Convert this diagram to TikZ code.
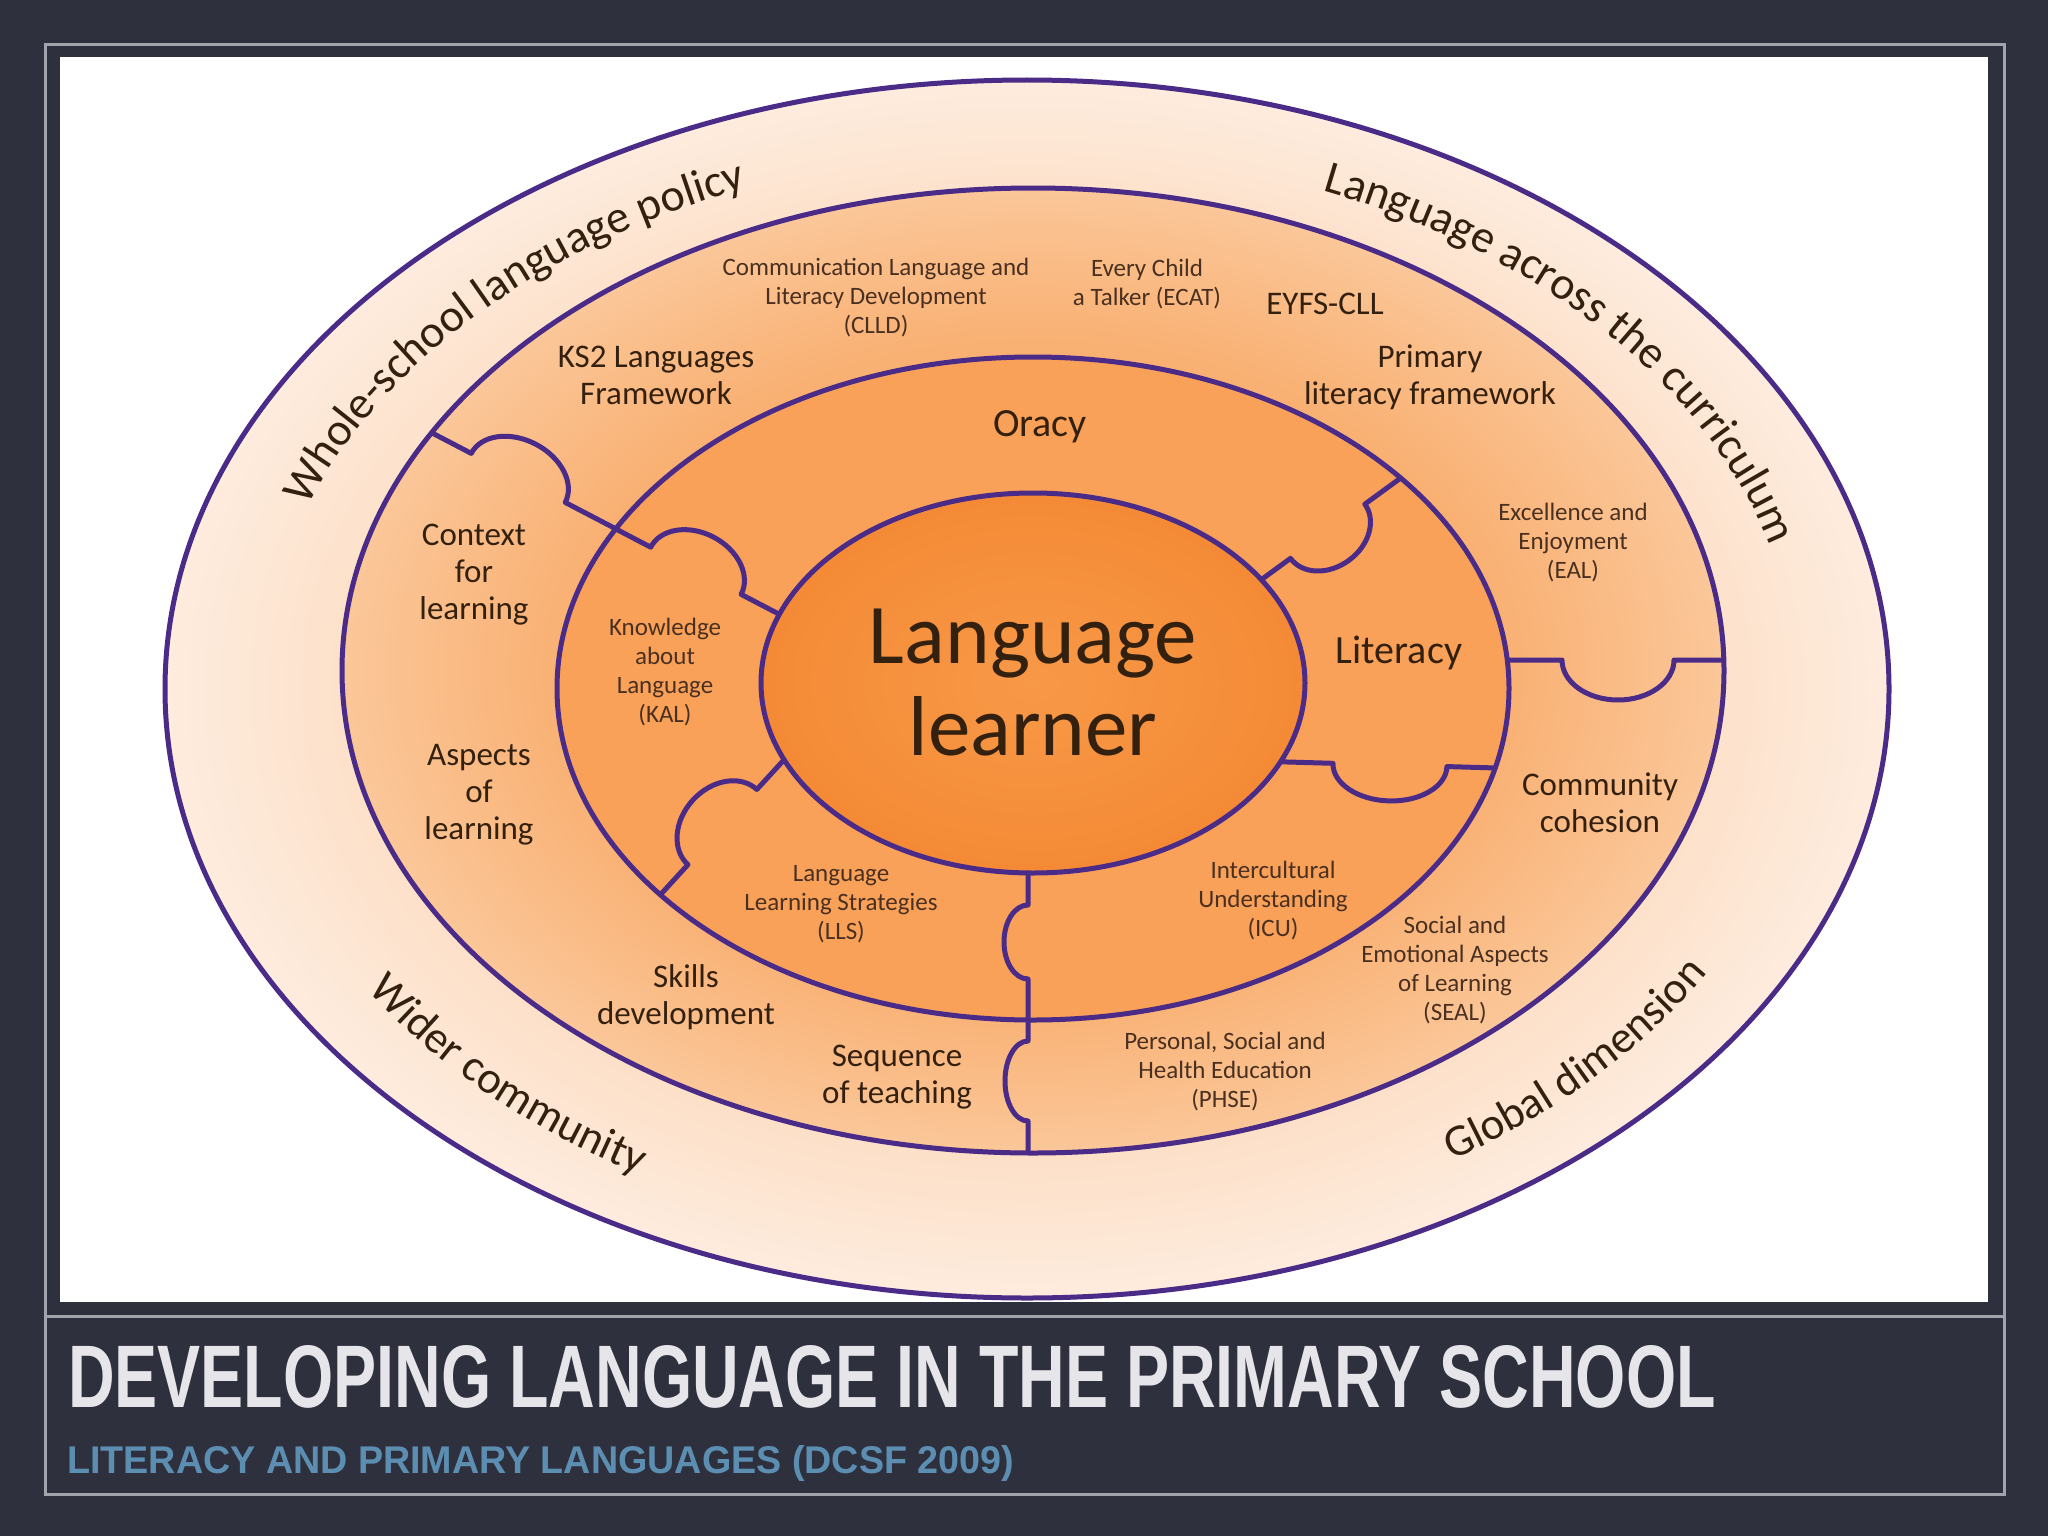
\documentclass[tikz,border=0pt]{standalone}
\usepackage{fontspec}
\usepackage{graphicx}
\setmainfont{Carlito}
\newfontfamily\titlefont{Liberation Sans}
\usetikzlibrary{decorations.text}

\definecolor{bgdark}{HTML}{2F303D}
\definecolor{framegray}{HTML}{A3A3AE}
\definecolor{pline}{HTML}{4A2B88}
\definecolor{innor}{HTML}{F9A159}
\definecolor{txtdark}{HTML}{33200F}
\definecolor{txtsmall}{HTML}{4A3020}
\definecolor{titlewhite}{HTML}{E5E5EA}
\definecolor{subblue}{HTML}{5C8EB2}

\pgfdeclareradialshading{outerring}{\pgfpointorigin}{rgb(0bp)=(0.99,0.86,0.76);rgb(19bp)=(0.99,0.875,0.78);rgb(25bp)=(0.995,0.925,0.87);rgb(50bp)=(0.995,0.925,0.87)}
\pgfdeclareradialshading{bandring}{\pgfpointorigin}{rgb(0bp)=(0.976,0.69,0.45);rgb(17bp)=(0.976,0.69,0.45);rgb(25bp)=(0.984,0.78,0.60);rgb(50bp)=(0.984,0.78,0.60)}
\pgfdeclareradialshading{corering}{\pgfpointorigin}{rgb(0bp)=(0.972,0.6,0.28);rgb(25bp)=(0.956,0.54,0.21);rgb(50bp)=(0.956,0.54,0.21)}

\newcommand{\curvefont}{\fontsize{46}{50}\selectfont}
\newcommand{\curvefontb}{\fontsize{45}{48}\selectfont}

% #1 x, #2 y, #3 angle, #4 length, #5 tab centre, #6 tab half width, #7 tab depth, #8 end angle (0 = left side, 360 = right side)
\newcommand{\tabline}[8]{%
  \begin{scope}[shift={(#1,#2)}, rotate=#3]
    \draw[divider] (0,0) -- ({#5-#6},0) arc[start angle=180, end angle=#8, x radius=#6, y radius=#7] -- (#4,0);
  \end{scope}}

\tikzset{
  ringline/.style={draw=pline, line width=5pt},
  divider/.style={draw=pline, line width=5pt, line join=round},
  lbl/.style={text=txtdark, align=center, inner sep=0pt},
  bigtxt/.style={lbl, font=\fontsize{85}{90}\selectfont},
  midtxt/.style={lbl, font=\fontsize{40}{44}\selectfont},
  bandtxt/.style={lbl, font=\fontsize{33}{37}\selectfont},
  smalltxt/.style={lbl, text=txtsmall, font=\fontsize{25}{29}\selectfont},
}

\begin{document}
\begin{tikzpicture}[x=1pt, y=1pt]
\useasboundingbox (0,0) rectangle (2048,-1536);
\fill[bgdark] (0,0) rectangle (2048,-1536);
\draw[framegray, line width=3pt] (45,-45) rectangle (2004,-1494);
\draw[framegray, line width=3pt] (45,-1316) -- (2004,-1316);
\fill[white] (60,-57) rectangle (1988,-1302);

\begin{scope}
\clip (60,-57) rectangle (1988,-1302);
\shadedraw[shading=outerring, ringline] (1027,-689) ellipse [x radius=862, y radius=609];
\shadedraw[shading=bandring, ringline] (1033,-670.5) ellipse [x radius=691, y radius=482.5];
\filldraw[fill=innor, ringline] (1033,-688.5) ellipse [x radius=476, y radius=331.5];
\shadedraw[shading=corering, ringline] (1033,-683) ellipse [x radius=272, y radius=190];
\end{scope}

% puzzle dividers
\tabline{431.8}{-432.8}{-27.56}{207.5}{97.5}{53}{38}{0}
\tabline{615.7}{-528.9}{-27.56}{184.5}{90.5}{51}{38}{0}
\tabline{1400.7}{-478}{216.1}{172.4}{90.4}{46}{36}{0}
\tabline{1507.2}{-660}{0}{216.6}{110.8}{56}{40}{360}
\tabline{1280.4}{-761.8}{-1.64}{214.8}{109.6}{57}{36}{360}
\tabline{784.2}{-759.6}{227.5}{183.4}{91.5}{51}{40}{360}
\tabline{1028}{-873}{-90}{147}{69}{37}{24}{360}
\tabline{1028}{-1020}{-90}{133}{61}{40}{23}{360}

% curved outer texts
\path[shift={(1030,-690)}, decorate, decoration={text along path, text align=center, text color=txtdark, text={|\curvefont|Whole-school language policy}}]
  (172.5:768 and 540) arc[start angle=172.5, end angle=102.5, x radius=768, y radius=540];
\path[shift={(1030,-690)}, decorate, decoration={text along path, text align=center, text color=txtdark, text={|\curvefont|Language across the curriculum}}]
  (77.5:768 and 540) arc[start angle=77.5, end angle=2, x radius=768, y radius=540];
\path[shift={(1030,-690)}, decorate, decoration={text along path, text align=center, text color=txtdark, text={|\curvefontb|Wider community}}]
  (200.5:786 and 558) arc[start angle=200.5, end angle=250, x radius=786, y radius=558];
\path[shift={(1030,-690)}, decorate, decoration={text along path, text align=center, text color=txtdark, text={|\curvefontb|Global dimension}}]
  (293.4:786 and 558) arc[start angle=293.4, end angle=340.7, x radius=786, y radius=558];

% centre
\node[bigtxt, anchor=base] (lang) at (1033,-663) {Language};
\node[bigtxt, anchor=base] (learner) at (1033,-755) {learner};

% inner ring
\node[midtxt] (oracy) at (1040,-427) {Oracy};
\node[midtxt] (literacy) at (1399,-653) {Literacy};
\node[smalltxt] (kal) at (665,-672) {Knowledge\\about\\Language\\(KAL)};
\node[smalltxt] (lls) at (841,-904) {Language\\Learning Strategies\\(LLS)};
\node[smalltxt] (icu) at (1273,-901) {Intercultural\\Understanding\\(ICU)};

% band
\node[bandtxt] (ks2) at (656,-375) {KS2 Languages\\Framework};
\node[bandtxt] (context) at (474,-575) {Context\\for\\learning};
\node[bandtxt] (aspects) at (479,-795) {Aspects\\of\\learning};
\node[bandtxt] (skills) at (686,-997) {Skills\\development};
\node[bandtxt] (sequence) at (897,-1077) {Sequence\\of teaching};
\node[bandtxt] (community) at (1600,-803) {Community\\cohesion};
\node[bandtxt] (eyfs) at (1325,-304) {EYFS-CLL};
\node[bandtxt] (primary) at (1430,-377) {Primary\\literacy framework};
\node[smalltxt] (clld) at (876,-298) {Communication Language and\\Literacy Development\\(CLLD)};
\node[smalltxt] (ecat) at (1147,-284) {Every Child\\a Talker (ECAT)};
\node[smalltxt] (eal) at (1573,-543) {Excellence and\\Enjoyment\\(EAL)};
\node[smalltxt] (seal) at (1455,-970) {Social and\\Emotional Aspects\\of Learning\\(SEAL)};
\node[smalltxt] (phse) at (1225,-1072) {Personal, Social and\\Health Education\\(PHSE)};

% caption
\node[anchor=base west, inner sep=0pt, text=titlewhite] (title) at (68,-1407)
  {\resizebox{1647pt}{62pt}{\titlefont\bfseries DEVELOPING LANGUAGE IN THE PRIMARY SCHOOL}};
\node[anchor=base west, inner sep=0pt, text=subblue] (subtitle) at (67,-1473)
  {\resizebox{947pt}{28pt}{\titlefont\bfseries LITERACY AND PRIMARY LANGUAGES (DCSF 2009)}};
\end{tikzpicture}
\end{document}
